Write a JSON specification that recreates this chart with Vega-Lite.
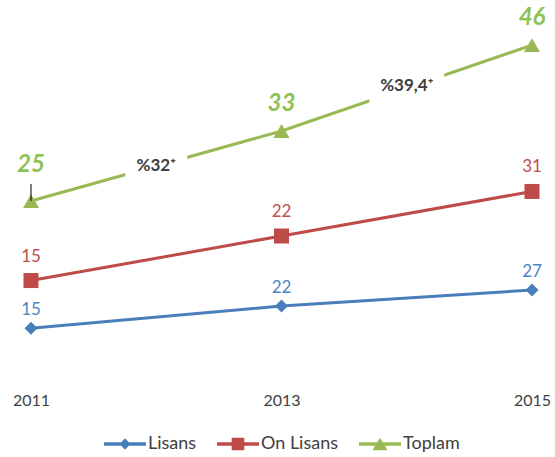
{
  "$schema": "https://vega.github.io/schema/vega-lite/v6.json",
  "width": 501,
  "height": 350,
  "autosize": "none",
  "padding": {"left": 31, "right": 23, "top": 26, "bottom": 81},
  "background": "white",
  "config": {
    "view": {"stroke": null},
    "font": "Lato",
    "legend": {"layout": {"bottom": {"anchor": "middle"}}}
  },
  "layer": [
    {
      "data": {
        "values": [
          {"year": 2011, "series": "Lisans", "value": 15},
          {"year": 2013, "series": "Lisans", "value": 22},
          {"year": 2015, "series": "Lisans", "value": 27},
          {"year": 2011, "series": "On Lisans", "value": 15},
          {"year": 2013, "series": "On Lisans", "value": 22},
          {"year": 2015, "series": "On Lisans", "value": 31},
          {"year": 2011, "series": "Toplam", "value": 25},
          {"year": 2013, "series": "Toplam", "value": 33},
          {"year": 2015, "series": "Toplam", "value": 46}
        ]
      },
      "transform": [
        {"stack": "value", "groupby": ["year"], "sort": [{"field": "series", "order": "ascending"}], "as": ["v0", "v1"]}
      ],
      "layer": [
        {
          "mark": {"type": "line", "strokeWidth": 3},
          "encoding": {
            "x": {
              "field": "year", "type": "quantitative",
              "scale": {"domain": [2011, 2015], "nice": false, "zero": false},
              "axis": {"values": [2011, 2013, 2015], "format": "d", "title": null, "domain": false, "ticks": false, "grid": false, "labelFontSize": 16, "labelFont": "Lato", "labelColor": "#404040", "labelPadding": 16, "labelFlush": false}
            },
            "y": {"field": "v1", "type": "quantitative", "scale": {"domain": [0, 110], "nice": false, "zero": true}, "axis": null},
            "color": {
              "field": "series", "type": "nominal",
              "scale": {"domain": ["Lisans", "On Lisans", "Toplam"], "range": ["#4a7ebb", "#be4b48", "#98b954"]},
              "legend": {
                "title": null, "orient": "bottom", "direction": "horizontal", "offset": 15,
                "labelFontSize": 18, "labelFont": "Lato", "labelColor": "#404040",
                "symbolSize": 1764, "labelOffset": 2, "columnPadding": 20,
                "encode": {
                  "symbols": {
                    "update": {
                      "shape": {"signal": "datum.value === 'Lisans' ? 'M-1,-0.08H1V0.08H-1Z M-0.26,0L0,-0.27L0.26,0L0,0.27Z' : datum.value === 'On Lisans' ? 'M-1,-0.08H1V0.08H-1Z M-0.3,-0.3H0.3V0.3H-0.3Z' : 'M-1,-0.08H1V0.08H-1Z M0,-0.3L0.36,0.3H-0.36Z'"},
                      "fill": {"signal": "scale('color', datum.value)"},
                      "stroke": {"value": "transparent"},
                      "strokeWidth": {"value": 0},
                      "opacity": {"value": 1}
                    }
                  }
                }
              }
            }
          }
        },
        {
          "transform": [{"filter": "datum.series === 'Lisans'"}],
          "mark": {"type": "point", "filled": true, "opacity": 1, "strokeWidth": 0, "shape": "diamond", "size": 169, "color": "#4a7ebb"},
          "encoding": {
            "x": {"field": "year", "type": "quantitative"},
            "y": {"field": "v1", "type": "quantitative"}
          }
        },
        {
          "transform": [{"filter": "datum.series === 'On Lisans'"}],
          "mark": {"type": "point", "filled": true, "opacity": 1, "strokeWidth": 0, "shape": "square", "size": 225, "color": "#be4b48"},
          "encoding": {
            "x": {"field": "year", "type": "quantitative"},
            "y": {"field": "v1", "type": "quantitative"}
          }
        },
        {
          "transform": [{"filter": "datum.series === 'Toplam'"}],
          "mark": {"type": "point", "filled": true, "opacity": 1, "strokeWidth": 0, "shape": "triangle-up", "size": 256, "color": "#98b954"},
          "encoding": {
            "x": {"field": "year", "type": "quantitative"},
            "y": {"field": "v1", "type": "quantitative"}
          }
        },
        {
          "transform": [{"filter": "datum.year === 2011 && datum.series === 'Toplam'"}],
          "mark": {"type": "rule", "color": "#000000", "strokeWidth": 1, "y2Offset": -17},
          "encoding": {
            "x": {"field": "year", "type": "quantitative"},
            "y": {"field": "v1", "type": "quantitative"},
            "y2": {"field": "v1"}
          }
        },
        {
          "transform": [{"filter": "datum.series === 'Lisans'"}],
          "mark": {"type": "text", "dy": -18, "fontSize": 17, "font": "Lato", "color": "#4a86c6"},
          "encoding": {
            "x": {"field": "year", "type": "quantitative"},
            "y": {"field": "v1", "type": "quantitative"},
            "text": {"field": "value"}
          }
        },
        {
          "transform": [{"filter": "datum.series === 'On Lisans'"}],
          "mark": {"type": "text", "dy": -24, "fontSize": 17, "font": "Lato", "color": "#c0504d"},
          "encoding": {
            "x": {"field": "year", "type": "quantitative"},
            "y": {"field": "v1", "type": "quantitative"},
            "text": {"field": "value"}
          }
        },
        {
          "transform": [{"filter": "datum.series === 'Toplam' && datum.year !== 2011"}],
          "mark": {"type": "text", "dy": -27, "fontSize": 24, "font": "Lato", "fontWeight": "bold", "fontStyle": "italic", "color": "#8dc153"},
          "encoding": {
            "x": {"field": "year", "type": "quantitative"},
            "y": {"field": "v1", "type": "quantitative"},
            "text": {"field": "value"}
          }
        },
        {
          "transform": [{"filter": "datum.series === 'Toplam' && datum.year === 2011"}],
          "mark": {"type": "text", "dy": -36, "fontSize": 24, "font": "Lato", "fontWeight": "bold", "fontStyle": "italic", "color": "#8dc153"},
          "encoding": {
            "x": {"field": "year", "type": "quantitative"},
            "y": {"field": "v1", "type": "quantitative"},
            "text": {"field": "value"}
          }
        }
      ]
    },
    {
      "data": {
        "values": [
          {"year": 2012, "value": 66, "label": "%32⁺"},
          {"year": 2014, "value": 91, "label": "%39,4⁺"}
        ]
      },
      "layer": [
        {
          "mark": {"type": "point", "filled": true, "color": "white", "opacity": 1, "strokeWidth": 0, "shape": "M-1,-0.42H1V0.42H-1Z"},
          "encoding": {
            "x": {"field": "year", "type": "quantitative"},
            "y": {"field": "value", "type": "quantitative"},
            "size": {"condition": {"test": "datum.year === 2012", "value": 3844}, "value": 5625}
          }
        },
        {
          "mark": {"type": "text", "fontSize": 17, "font": "Lato", "fontWeight": "bold", "color": "#404040"},
          "encoding": {
            "x": {"field": "year", "type": "quantitative"},
            "y": {"field": "value", "type": "quantitative"},
            "text": {"field": "label"}
          }
        }
      ]
    }
  ]
}
